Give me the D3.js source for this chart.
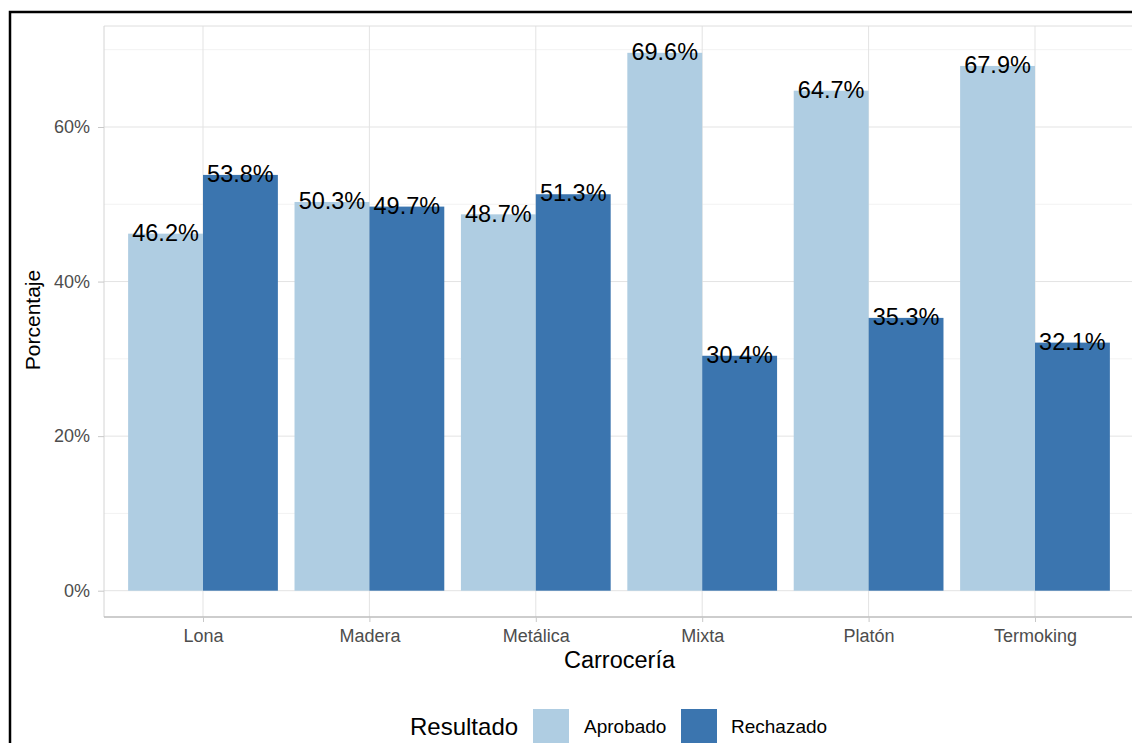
<!DOCTYPE html>
<html><head><meta charset="utf-8">
<script src="https://cdnjs.cloudflare.com/ajax/libs/d3/7.8.5/d3.min.js"></script>
<style>body{margin:0;background:#fff}svg{display:block;font-family:"Liberation Sans",Arial,sans-serif}</style>
</head><body><svg id="c" width="1132" height="743"></svg>
<script>
const categories = ["Lona","Madera","Metálica","Mixta","Platón","Termoking"];
const seriesNames = ["Aprobado","Rechazado"];
const aprobado = [46.2,50.3,48.7,69.6,64.7,67.9];
const rechazado = [53.8,49.7,51.3,30.4,35.3,32.1];
const yTicks = [0,20,40,60];
const yMinor = [10,30,50,70];
const colors = ["#afcde2","#3b75af"];

const svg = d3.select("#c");
const L = 104, R = 1135, T = 26, B = 617;
const x = d3.scalePoint().domain(categories).range([203, 1035]);
const step = x.step();
const y = d3.scaleLinear().domain([0, 60]).range([590.7, 127]);
const bw = step * 0.45;

// frame
svg.append("rect").attr("x",10).attr("y",12).attr("width",1200).attr("height",800)
  .attr("fill","none").attr("stroke","#000").attr("stroke-width",2.5);

// grid
const g = svg.append("g");
g.selectAll(".mn").data(yMinor).join("line").attr("x1",L).attr("x2",R)
  .attr("y1",d=>y(d)).attr("y2",d=>y(d)).attr("stroke","#f2f2f2").attr("stroke-width",1);
g.selectAll(".mj").data(yTicks).join("line").attr("x1",L).attr("x2",R)
  .attr("y1",d=>y(d)).attr("y2",d=>y(d)).attr("stroke","#e3e3e3").attr("stroke-width",1);
g.selectAll(".vx").data(categories).join("line").attr("x1",d=>x(d)).attr("x2",d=>x(d))
  .attr("y1",T).attr("y2",B).attr("stroke","#e3e3e3").attr("stroke-width",1);
g.append("line").attr("x1",L).attr("x2",R).attr("y1",T).attr("y2",T).attr("stroke","#dedede");
g.append("line").attr("x1",L).attr("x2",L).attr("y1",T).attr("y2",B).attr("stroke","#d4d4d4");

// bars
const data = [];
categories.forEach((c,i)=>{
  data.push({c, s:0, v:aprobado[i]});
  data.push({c, s:1, v:rechazado[i]});
});
svg.selectAll(".bar").data(data).join("rect")
  .attr("x",d=>x(d.c) + (d.s===0 ? -bw : 0))
  .attr("width",bw)
  .attr("y",d=>y(d.v))
  .attr("height",d=>y(0)-y(d.v))
  .attr("fill",d=>colors[d.s]);

// bottom axis
const xa = svg.append("g").attr("transform",`translate(0,${B})`)
  .call(d3.axisBottom(x).tickSize(5).tickSizeOuter(0));
xa.select(".domain").attr("stroke","#bdbdbd").attr("stroke-width",1.5).attr("d",`M${L},0H${R}`);
xa.selectAll(".tick line").attr("stroke","#c8c8c8");
xa.selectAll(".tick text").attr("fill","#4d4d4d").attr("font-size",18).attr("dy",0).attr("y",25);

const ya = svg.append("g").attr("transform",`translate(${L},0)`)
  .call(d3.axisLeft(y).tickValues(yTicks).tickFormat(d=>d+"%").tickSize(6).tickPadding(8));
ya.select(".domain").remove();
ya.selectAll(".tick line").attr("stroke","#c8c8c8");
ya.selectAll(".tick text").attr("fill","#4d4d4d").attr("font-size",18);

// labels
svg.selectAll(".lbl").data(data).join("text")
  .attr("x",d=>x(d.c) + (d.s===0 ? -bw/2 : bw/2))
  .attr("y",d=>y(d.v)+1)
  .attr("dominant-baseline","middle")
  .attr("text-anchor","middle")
  .attr("font-size",23.5).attr("fill","#000")
  .text(d=>d.v.toFixed(1)+"%");

// axis titles
svg.append("text").attr("x",619.5).attr("y",668).attr("text-anchor","middle")
  .attr("font-size",23.5).attr("fill","#000").text("Carrocería");
svg.append("text").attr("transform","translate(40,320) rotate(-90)").attr("text-anchor","middle")
  .attr("font-size",21).attr("fill","#000").text("Porcentaje");

// legend
const lg = svg.append("g");
lg.append("text").attr("x",410).attr("y",735).attr("font-size",24).attr("fill","#000").text("Resultado");
const keyX = [533, 681], labX = [584, 731];
seriesNames.forEach((s,i)=>{
  lg.append("rect").attr("x",keyX[i]).attr("y",709).attr("width",36).attr("height",36).attr("fill",colors[i]);
  lg.append("text").attr("x",labX[i]).attr("y",733).attr("font-size",19).attr("fill","#000").text(s);
});
</script></body></html>
